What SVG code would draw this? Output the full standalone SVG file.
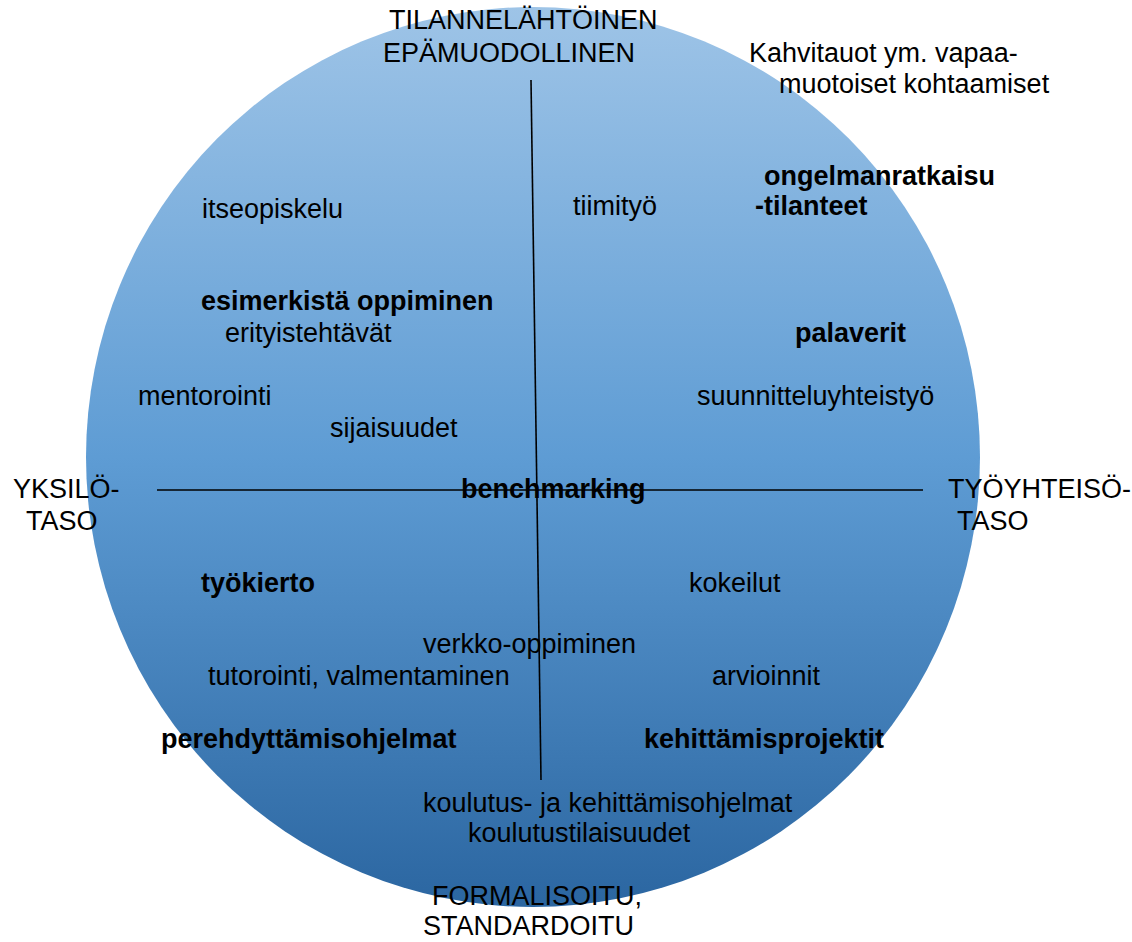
<svg xmlns="http://www.w3.org/2000/svg" width="1132" height="942" viewBox="0 0 1132 942">
<style>
text{font-family:"Liberation Sans",Arial,sans-serif;font-size:27px;fill:#000}
.b{font-weight:bold}
.ax{stroke:#000;stroke-width:1.6;fill:none}
</style>
<defs>
<linearGradient id="g" x1="0" y1="0" x2="0" y2="1">
<stop offset="0" stop-color="#9EC4E7"/>
<stop offset="0.5" stop-color="#5E9CD4"/>
<stop offset="1" stop-color="#2B66A1"/>
</linearGradient>
</defs>
<rect width="1132" height="942" fill="#fff"/>
<g id="circle"><ellipse cx="533" cy="457" rx="447" ry="450" fill="url(#g)"/></g>
<g id="connectors">
<line class="ax" x1="531" y1="80" x2="541" y2="780"/>
<line class="ax" x1="157" y1="490" x2="923" y2="490"/>
</g>
<g id="axis-top"><text x="389" y="29">TILANNELÄHTÖINEN</text><text x="383" y="62">EPÄMUODOLLINEN</text></g>
<g id="axis-bottom"><text x="432" y="905">FORMALISOITU,</text><text x="423" y="935">STANDARDOITU</text></g>
<g id="axis-left"><text x="13" y="498">YKSILÖ-</text><text x="26" y="530">TASO</text></g>
<g id="axis-right"><text x="948" y="498">TYÖYHTEISÖ-</text><text x="957" y="530">TASO</text></g>
<g id="kahvitauot"><text x="749" y="62">Kahvitauot ym. vapaa-</text><text x="779" y="93">muotoiset kohtaamiset</text></g>
<g id="ongelmanratkaisu"><text class="b" x="764" y="185">ongelmanratkaisu</text><text class="b" x="755" y="215">-tilanteet</text></g>
<g id="tiimityo"><text x="573" y="215">tiimityö</text></g>
<g id="itseopiskelu"><text x="202" y="218">itseopiskelu</text></g>
<g id="esimerkista"><text class="b" x="201" y="310">esimerkistä oppiminen</text></g>
<g id="erityistehtavat"><text x="225" y="342">erityistehtävät</text></g>
<g id="palaverit"><text class="b" x="795" y="342">palaverit</text></g>
<g id="mentorointi"><text x="138" y="405">mentorointi</text></g>
<g id="suunnittelu"><text x="697" y="405">suunnitteluyhteistyö</text></g>
<g id="sijaisuudet"><text x="330" y="437">sijaisuudet</text></g>
<g id="benchmarking"><text class="b" x="461" y="498">benchmarking</text></g>
<g id="tyokierto"><text class="b" x="201" y="592">työkierto</text></g>
<g id="kokeilut"><text x="689" y="592">kokeilut</text></g>
<g id="verkko"><text x="423" y="653">verkko-oppiminen</text></g>
<g id="tutorointi"><text x="208" y="685">tutorointi, valmentaminen</text></g>
<g id="arvioinnit"><text x="712" y="685">arvioinnit</text></g>
<g id="perehdyttamis"><text class="b" x="161" y="748">perehdyttämisohjelmat</text></g>
<g id="kehittamisprojektit"><text class="b" x="644" y="748">kehittämisprojektit</text></g>
<g id="koulutus"><text x="423" y="812">koulutus- ja kehittämisohjelmat</text><text x="468" y="842">koulutustilaisuudet</text></g>
</svg>
